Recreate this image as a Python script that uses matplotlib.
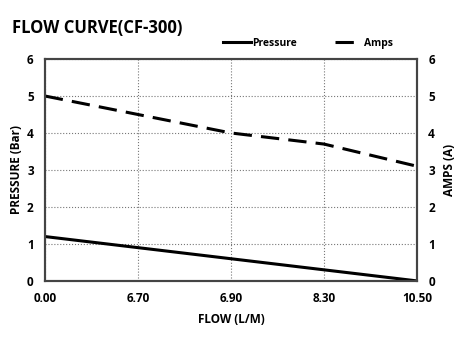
import numpy as np
import matplotlib
matplotlib.use("Agg")
import matplotlib.pyplot as plt

plt.rcParams['font.family'] = ['Open Sans', 'DejaVu Sans']
plt.rcParams['font.weight'] = 'bold'

flow_labels = ["0.00", "6.70", "6.90", "8.30", "10.50"]
pressure = [1.2, 0.9, 0.6, 0.3, 0.0]
amps = [5.0, 4.5, 4.0, 3.7, 3.1]

x = np.arange(len(flow_labels))

fig = plt.figure(figsize=(4.67, 3.43), dpi=100)
ax = fig.add_axes([0.096, 0.181, 0.797, 0.647])
ax2 = ax.twinx()

ax.plot(x, pressure, color='black', lw=2.2, label='Pressure')
ax2.plot(x, amps, color='black', lw=2.2, ls=(0, (6, 3)), label='Amps')

for a in (ax, ax2):
    a.set_ylim(0, 6)
    a.set_yticks(range(7))
    a.tick_params(length=0, labelsize=8.5, pad=8)
    for s in a.spines.values():
        s.set_color('#444444')
        s.set_linewidth(1.5)
    for lab in a.get_yticklabels():
        lab.set_fontweight('bold')

ax.set_xlim(0, 4)
ax.set_xticks(x)
ax.set_xticklabels(flow_labels, fontweight='bold')
ax.tick_params(axis='x', pad=8)
ax.grid(True, color='#777777', ls=':', lw=0.8)

ax.set_xlabel("FLOW (L/M)", fontsize=8.5, fontweight='bold', labelpad=6)
ax.set_ylabel("PRESSURE (Bar)", fontsize=8.5, fontweight='bold', labelpad=3)
ax2.set_ylabel("AMPS (A)", fontsize=8.5, fontweight='bold', labelpad=6)

fig.text(0.026, 0.905, "FLOW CURVE(CF-300)", fontsize=12, fontweight='bold')

h1, l1 = ax.get_legend_handles_labels()
h2, l2 = ax2.get_legend_handles_labels()
fig.legend(h1 + h2, l1 + l2, loc='center', bbox_to_anchor=(0.66, 0.873), ncol=2,
           frameon=False, handlelength=2.6, columnspacing=3.6,
           handletextpad=0.2, prop={'weight': 'bold', 'size': 7.5})

fig.savefig("out.png", dpi=100)
